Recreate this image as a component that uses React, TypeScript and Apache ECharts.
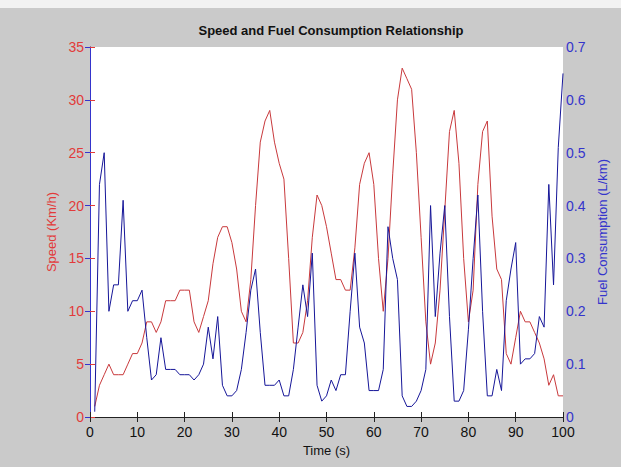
import React, { useEffect, useRef } from "react";
import * as echarts from "echarts";

const TITLE = "Speed and Fuel Consumption Relationship";
const X_NAME = "Time (s)";
const Y1_NAME = "Speed (Km/h)";
const Y2_NAME = "Fuel Consumption (L/km)";

// Speed (km/h), one value per second, t = 1..100
const speed = [
  1, 3, 4, 5, 4, 4, 4, 5, 6, 6,
  7, 9, 9, 8, 9, 11, 11, 11, 12, 12,
  12, 9, 8, 9.5, 11, 14.5, 17, 18, 18, 16.5,
  14, 10, 9, 13, 20, 26, 28, 29, 26, 24,
  22.5, 15, 7, 7, 8, 11, 17, 21, 20, 18,
  15.5, 13, 13, 12, 12, 16, 22, 24, 25, 22,
  15, 10, 15, 23, 30, 33, 32, 31, 25, 17,
  9, 5, 7, 12, 19.5, 27, 29, 24, 15, 9,
  12, 22, 27, 28, 19, 14, 13, 6, 5, 7.5,
  10, 9, 9, 8, 7, 5.5, 3, 4, 2, 2,
];

// Fuel consumption (L/km), one value per second, t = 1..100
const fuel = [
  0.01, 0.44, 0.5, 0.2, 0.25, 0.25, 0.41, 0.2, 0.22, 0.22,
  0.24, 0.15, 0.07, 0.08, 0.15, 0.09, 0.09, 0.09, 0.08, 0.08,
  0.08, 0.07, 0.08, 0.1, 0.17, 0.11, 0.19, 0.06, 0.04, 0.04,
  0.05, 0.09, 0.16, 0.24, 0.28, 0.16, 0.06, 0.06, 0.06, 0.07,
  0.04, 0.04, 0.09, 0.17, 0.25, 0.19, 0.31, 0.06, 0.03, 0.04,
  0.07, 0.05, 0.08, 0.08, 0.2, 0.31, 0.17, 0.14, 0.05, 0.05,
  0.05, 0.09, 0.36, 0.3, 0.26, 0.04, 0.02, 0.02, 0.03, 0.05,
  0.09, 0.4, 0.19, 0.31, 0.4, 0.19, 0.03, 0.03, 0.05, 0.165,
  0.3, 0.42, 0.2, 0.04, 0.04, 0.09, 0.05, 0.22, 0.28, 0.33,
  0.1, 0.11, 0.11, 0.12, 0.19, 0.17, 0.44, 0.25, 0.51, 0.65,
];

const FONT = "'Liberation Sans', Arial, sans-serif";
const RED_AXIS = "#e23a3a";
const BLUE_AXIS = "#3434cc";
const RED_LINE = "#c8393c";
const BLUE_LINE = "#161698";

export default function App() {
  const ref = useRef<HTMLDivElement>(null);
  useEffect(() => {
    if (!ref.current) return;
    const chart = echarts.init(ref.current, undefined, { renderer: "svg" });
    const speedData = speed.map((v, i) => [i + 1, v]);
    const fuelData = fuel.map((v, i) => [i + 1, v]);
    chart.setOption({
      animation: false,
      backgroundColor: "#cacaca",
      textStyle: { fontFamily: FONT },
      title: {
        text: TITLE,
        left: 326,
        textAlign: "center",
        top: 19,
        textStyle: { fontSize: 13, fontWeight: "bold", color: "#111", fontFamily: FONT },
      },
      graphic: [
        { type: "rect", shape: { x: 0, y: 0, width: 621, height: 8 }, style: { fill: "#f2f2f2" }, silent: true },
      ],
      grid: {
        left: 90,
        right: 58,
        top: 47,
        bottom: 50,
        show: true,
        backgroundColor: "#ffffff",
        borderWidth: 0,
      },
      xAxis: [
        {
          type: "value",
          min: 0,
          max: 100,
          interval: 10,
          position: "bottom",
          name: X_NAME,
          nameLocation: "middle",
          nameGap: 23,
          nameTextStyle: { fontSize: 13, color: "#111", fontFamily: FONT },
          axisLine: { show: true, lineStyle: { color: "#222", width: 1 } },
          axisTick: { show: true, inside: true, length: 5, lineStyle: { color: "#222" } },
          axisLabel: { fontSize: 14, color: "#111", margin: 8, fontFamily: FONT },
          splitLine: { show: false },
        },
        {
          type: "value",
          min: 0,
          max: 100,
          interval: 10,
          position: "top",
          axisLine: { show: true, lineStyle: { color: "#222", width: 1 } },
          axisTick: { show: true, inside: true, length: 5, lineStyle: { color: "#222" } },
          axisLabel: { show: false },
          splitLine: { show: false },
        },
      ],
      yAxis: [
        {
          type: "value",
          min: 0,
          max: 35,
          interval: 5,
          position: "left",
          name: Y1_NAME,
          nameLocation: "middle",
          nameGap: 27,
          nameTextStyle: { fontSize: 13, color: RED_AXIS, fontFamily: FONT },
          axisLine: { show: true, lineStyle: { color: RED_AXIS, width: 1 } },
          axisTick: { show: true, inside: true, length: 5, lineStyle: { color: RED_AXIS } },
          axisLabel: { fontSize: 14, color: RED_AXIS, margin: 6, fontFamily: FONT },
          splitLine: { show: false },
        },
        {
          type: "value",
          min: 0,
          max: 0.7,
          interval: 0.1,
          position: "right",
          name: Y2_NAME,
          nameLocation: "middle",
          nameGap: 22,
          nameTextStyle: { fontSize: 13, color: BLUE_AXIS, fontFamily: FONT },
          axisLine: { show: true, lineStyle: { color: BLUE_AXIS, width: 1 } },
          axisTick: { show: true, inside: true, length: 5, lineStyle: { color: BLUE_AXIS } },
          axisLabel: { fontSize: 14, color: BLUE_AXIS, margin: 3, fontFamily: FONT },
          splitLine: { show: false },
        },
      ],
      series: [
        {
          type: "line",
          name: "Speed",
          xAxisIndex: 0,
          yAxisIndex: 0,
          data: speedData,
          showSymbol: false,
          lineStyle: { color: RED_LINE, width: 1 },
          itemStyle: { color: RED_LINE },
        },
        {
          type: "line",
          name: "Fuel",
          xAxisIndex: 0,
          yAxisIndex: 1,
          data: fuelData,
          showSymbol: false,
          lineStyle: { color: BLUE_LINE, width: 1 },
          itemStyle: { color: BLUE_LINE },
        },
      ],
    });
    return () => chart.dispose();
  }, []);
  return (
    <div
      ref={ref}
      style={{ position: "fixed", left: 0, top: 0, width: 621, height: 467 }}
    />
  );
}
